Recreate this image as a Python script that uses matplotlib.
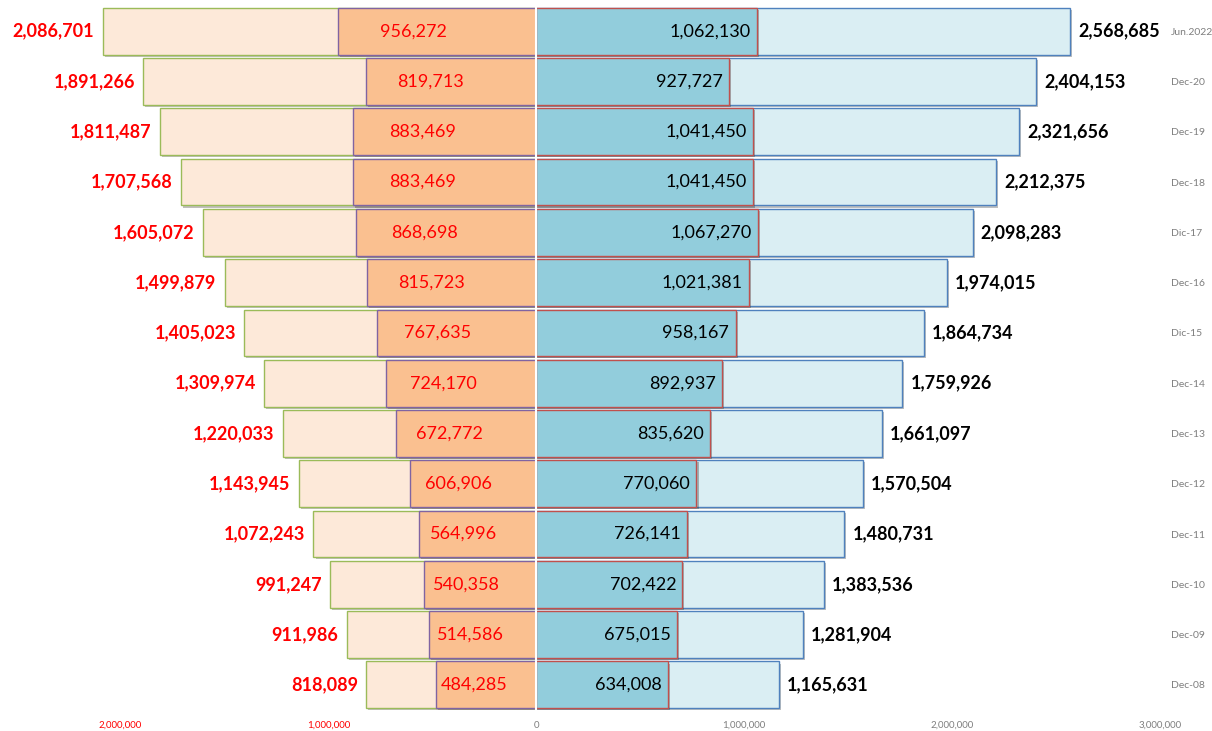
import numpy as np
import matplotlib
matplotlib.use('Agg')
import matplotlib.pyplot as plt
import matplotlib.patheffects as pe

cats = ['Jun.2022', 'Dec-20', 'Dec-19', 'Dec-18', 'Dic-17', 'Dec-16', 'Dic-15',
        'Dec-14', 'Dec-13', 'Dec-12', 'Dec-11', 'Dec-10', 'Dec-09', 'Dec-08']
left_outer = [2086701, 1891266, 1811487, 1707568, 1605072, 1499879, 1405023,
              1309974, 1220033, 1143945, 1072243, 991247, 911986, 818089]
left_inner = [956272, 819713, 883469, 883469, 868698, 815723, 767635,
              724170, 672772, 606906, 564996, 540358, 514586, 484285]
right_inner = [1062130, 927727, 1041450, 1041450, 1067270, 1021381, 958167,
               892937, 835620, 770060, 726141, 702422, 675015, 634008]
right_outer = [2568685, 2404153, 2321656, 2212375, 2098283, 1974015, 1864734,
               1759926, 1661097, 1570504, 1480731, 1383536, 1281904, 1165631]
xticks = [-2000000, -1000000, 0, 1000000, 2000000, 3000000]

plt.rcParams['font.family'] = ['Lato', 'DejaVu Sans']

my_dpi = 100
fig = plt.figure(figsize=(1212/my_dpi, 731/my_dpi), dpi=my_dpi)
ax = fig.add_axes([0.0, 0.0287, 1160/1212, 0.963])

n = len(cats)
y = np.arange(n)[::-1]
h = 0.93
shadow = [pe.SimplePatchShadow(offset=(1.5, -1.5), alpha=0.35), pe.Normal()]

lo = np.array(left_outer)
li = np.array(left_inner)
ri = np.array(right_inner)
ro = np.array(right_outer)

ax.barh(y, -lo, height=h, color='#FDE9D9', edgecolor='#9BBB59', linewidth=1, zorder=1, path_effects=shadow)
ax.barh(y, -li, height=h, color='#FAC090', edgecolor='#8064A2', linewidth=1, zorder=2, path_effects=shadow)
ax.barh(y, ro, height=h, color='#DAEEF3', edgecolor='#4F81BD', linewidth=1, zorder=1, path_effects=shadow)
ax.barh(y, ri, height=h, color='#92CDDC', edgecolor='#C0504D', linewidth=1, zorder=2, path_effects=shadow)
ax.axvline(0, color='white', linewidth=1.5, zorder=3)

for yy, a, b, c, d in zip(y, lo, li, ri, ro):
    ax.text(-a - 40000, yy, f'{a:,}', ha='right', va='center', color='#FF0000',
            fontsize=13, fontweight='bold', zorder=4)
    ax.text(-0.62 * b, yy, f'{b:,}', ha='center', va='center', color='#FF0000',
            fontsize=13, zorder=4)
    ax.text(c - 30000, yy, f'{c:,}', ha='right', va='center', color='black',
            fontsize=13, zorder=4)
    ax.text(d + 40000, yy, f'{d:,}', ha='left', va='center', color='black',
            fontsize=13, fontweight='bold', zorder=4)

ax.set_xlim(-2580000, 3000000)
ax.set_ylim(-0.5, n - 0.5)
ax.set_xticks(xticks)
ax.set_xticklabels([f'{abs(t):,}' for t in xticks], fontsize=7)
for lab, t in zip(ax.get_xticklabels(), xticks):
    lab.set_color('#FF0000' if t < 0 else '#7F7F7F')
ax.yaxis.tick_right()
ax.set_yticks(y)
ax.set_yticklabels(cats, fontsize=7.5, color='#7F7F7F')
ax.tick_params(length=0, pad=8)
for s in ax.spines.values():
    s.set_visible(False)

fig.savefig('out.png', dpi=my_dpi)
plt.close()
